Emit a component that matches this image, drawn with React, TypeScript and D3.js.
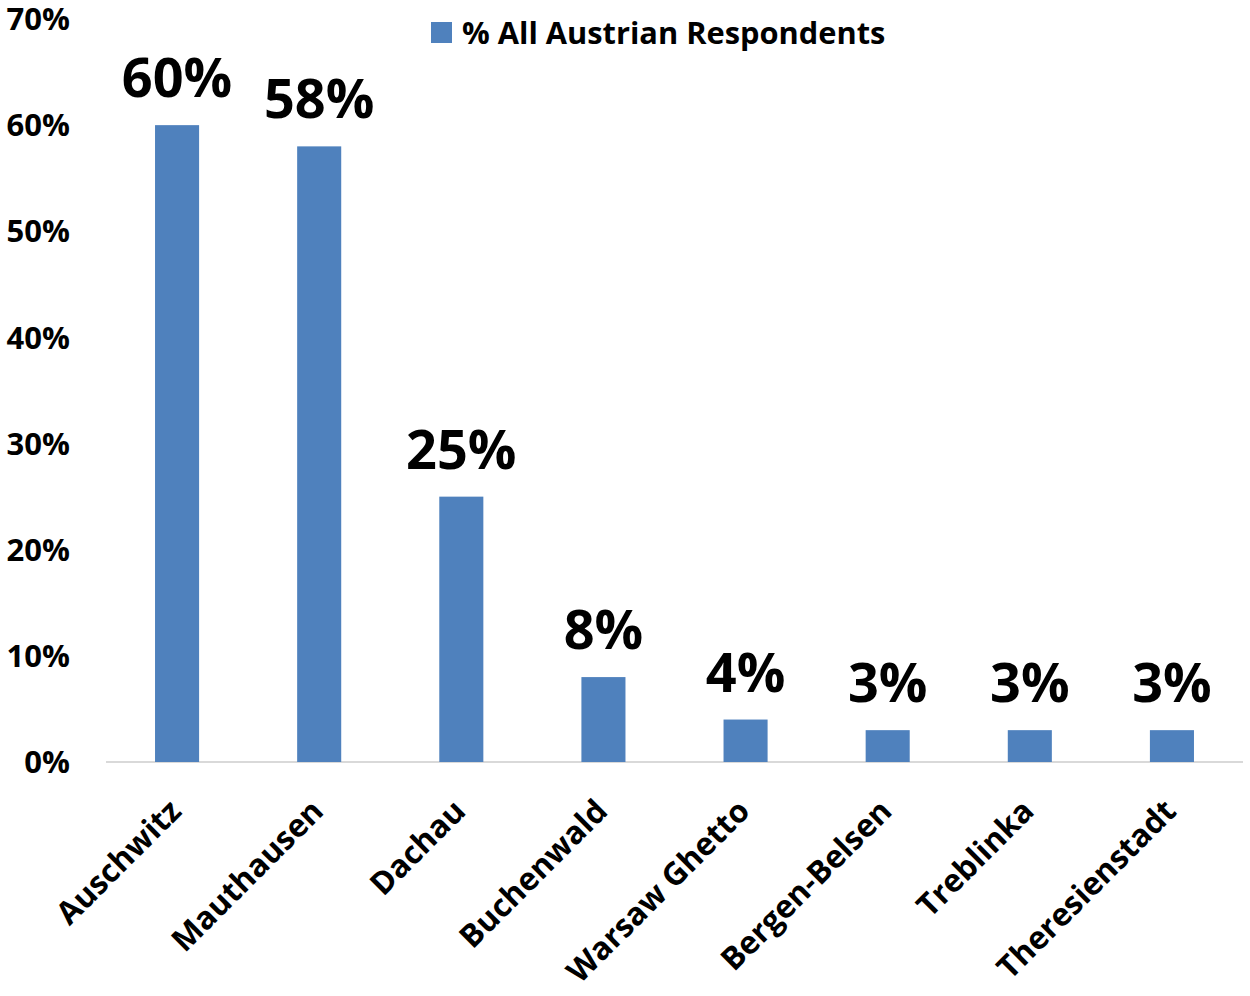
import React from "react";
import * as d3 from "d3";

const categories = ["Auschwitz", "Mauthausen", "Dachau", "Buchenwald", "Warsaw Ghetto", "Bergen-Belsen", "Treblinka", "Theresienstadt"];
const values = [60, 58, 25, 8, 4, 3, 3, 3];
const yTicks = [0, 10, 20, 30, 40, 50, 60, 70];
const seriesName = "% All Austrian Respondents";

const W = 1250, H = 996;
const FONT = "'Open Sans', sans-serif";
const BLUE = "#4f81bd";

export default function App() {
  const x = d3.scaleBand<string>().domain(categories).range([106, 1243]).paddingInner(0.69).paddingOuter(0.345);
  const y = d3.scaleLinear().domain([0, 70]).range([762, 19]);
  return (
    <svg width={W} height={H} style={{ position: "absolute", left: 0, top: 0, background: "#fff" }} fontFamily={FONT} fontWeight={700}>
      <line x1={106} x2={1243} y1={y(0)} y2={y(0)} stroke="#d9d9d9" strokeWidth={2} />
      {yTicks.map((t) => (
        <text key={t} x={70} y={y(t)} dy="0.36em" textAnchor="end" fontSize={31} fill="#000">{t}%</text>
      ))}
      {categories.map((c, i) => (
        <g key={c}>
          <rect x={x(c)} y={y(values[i])} width={x.bandwidth()} height={y(0) - y(values[i])} fill={BLUE} />
          <text x={x(c)! + x.bandwidth() / 2} y={y(values[i]) - 28} textAnchor="middle" fontSize={54} fill="#000">{values[i]}%</text>
          <text transform={`translate(${x(c)! + x.bandwidth() / 2 - 2},${y(0) + 43}) rotate(-45)`} textAnchor="end" dy="0.36em" fontSize={31.5} fill="#000">{c}</text>
        </g>
      ))}
      <rect x={431} y={22} width={21} height={21} fill={BLUE} />
      <text x={462} y={32.5} dy="0.36em" fontSize={30.8} fill="#000">{seriesName}</text>
    </svg>
  );
}
